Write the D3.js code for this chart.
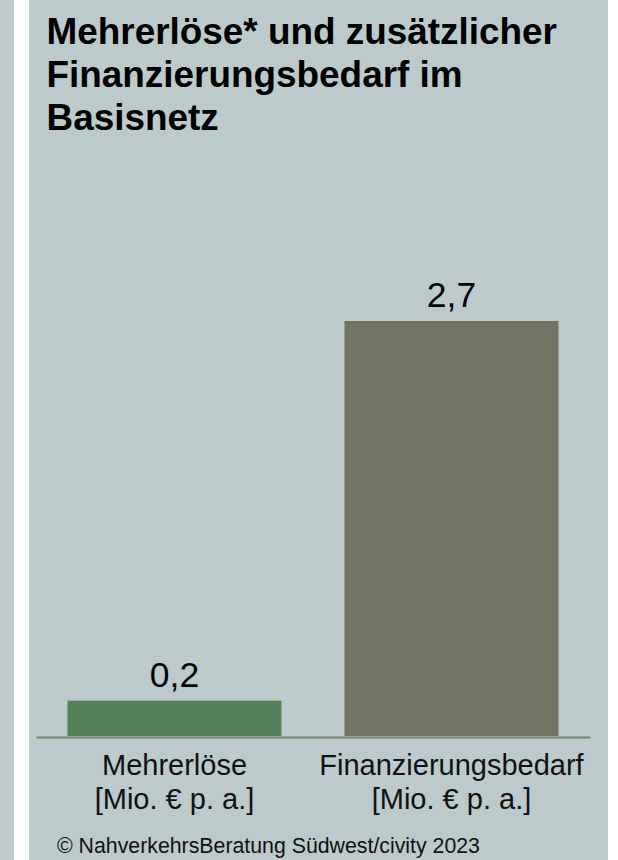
<!DOCTYPE html>
<html>
<head>
<meta charset="utf-8">
<script src="https://cdn.jsdelivr.net/npm/d3@7"></script>
<style>
  html, body { margin: 0; padding: 0; background: #ffffff; }
  svg { display: block; }
  text { font-family: "Liberation Sans", Arial, Helvetica, sans-serif; }
</style>
</head>
<body>
<svg id="chart" width="618" height="860"></svg>
<script>
// ---- data ----
const titleLines = ["Mehrerlöse* und zusätzlicher", "Finanzierungsbedarf im", "Basisnetz"];
const categories = ["Mehrerlöse", "Finanzierungsbedarf"];
const categorySubLabels = ["[Mio. € p. a.]", "[Mio. € p. a.]"];
const values = [0.23, 2.7];
const barColors = ["#56825A", "#717363"];
const sourceNote = "© NahverkehrsBeratung Südwest/civity 2023";

// ---- layout ----
const W = 618, H = 860;
const svg = d3.select("#chart");

// left strip + panel
svg.append("rect").attr("x", 0).attr("y", 0).attr("width", 14).attr("height", H).attr("fill", "#BECBCC");
svg.append("rect").attr("x", 29).attr("y", 0).attr("width", 579).attr("height", H).attr("fill", "#BDCACB");

// title
svg.append("g").selectAll("text").data(titleLines).join("text")
  .attr("x", 46.5)
  .attr("y", (d, i) => 43.5 + i * 43.3)
  .attr("font-size", 36.9)
  .attr("font-weight", "bold")
  .attr("fill", "#000")
  .text(d => d);

// scales
const x = d3.scaleBand()
  .domain(categories)
  .range([36, 590])
  .paddingInner(0.2274)
  .paddingOuter(0.1137);

const y = d3.scaleLinear()
  .domain([0, 2.7])
  .range([736, 321]);

const data = categories.map((c, i) => ({ cat: c, sub: categorySubLabels[i], v: values[i], color: barColors[i] }));

// bars
svg.append("g").selectAll("rect").data(data).join("rect")
  .attr("x", d => x(d.cat))
  .attr("y", d => y(d.v))
  .attr("width", x.bandwidth())
  .attr("height", d => y(0) - y(d.v))
  .attr("fill", d => d.color);

// baseline axis
const axis = d3.axisBottom(x).tickSize(0).tickFormat("");
const axG = svg.append("g").attr("transform", `translate(0,${y(0) + 1})`).call(axis);
axG.select(".domain").attr("stroke", "#7E7F6F").attr("stroke-width", 2.2);

// value labels
const fmt = v => v.toFixed(1).replace(".", ",");
svg.append("g").selectAll("text").data(data).join("text")
  .attr("x", d => x(d.cat) + x.bandwidth() / 2)
  .attr("y", d => y(d.v) - 14)
  .attr("text-anchor", "middle")
  .attr("font-size", 35.5)
  .attr("fill", "#000")
  .text(d => fmt(d.v));

// category labels
const catG = svg.append("g").selectAll("text").data(data).join("text")
  .attr("text-anchor", "middle")
  .attr("font-size", 29)
  .attr("fill", "#111");
catG.append("tspan")
  .attr("x", d => x(d.cat) + x.bandwidth() / 2)
  .attr("y", y(0) + 39)
  .text(d => d.cat);
catG.append("tspan")
  .attr("x", d => x(d.cat) + x.bandwidth() / 2)
  .attr("y", y(0) + 73)
  .text(d => d.sub);

// source note
svg.append("text")
  .attr("x", 57)
  .attr("y", 853)
  .attr("font-size", 21.3)
  .attr("fill", "#111")
  .text(sourceNote);
</script>
</body>
</html>
